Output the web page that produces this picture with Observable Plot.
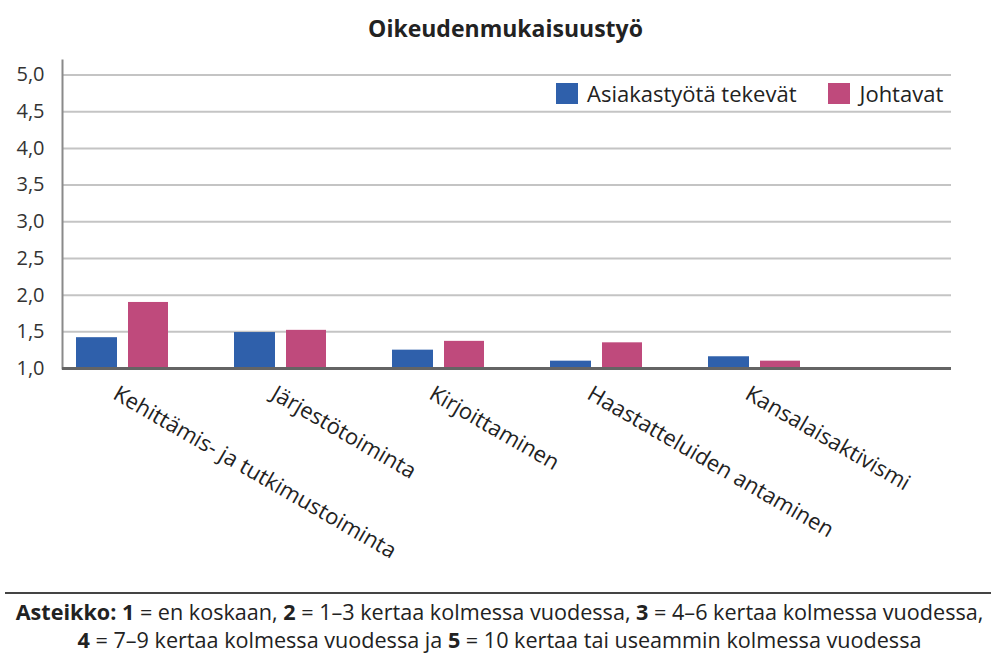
<!DOCTYPE html>
<html><head><meta charset="utf-8">
<script src="https://cdn.jsdelivr.net/npm/d3@7"></script>
<script src="https://cdn.jsdelivr.net/npm/@observablehq/plot@0.6"></script>
<style>
body{margin:0;background:#fff;width:991px;height:662px;position:relative;overflow:hidden;font-family:"Open Sans",sans-serif;color:#222}
#title{position:absolute;top:12px;left:0;width:1011px;text-align:center;font-weight:700;font-size:23px;line-height:32px}
#chart{position:absolute;top:55px;left:0}
#legend{position:absolute;top:78px;left:556px;display:flex;align-items:center;font-size:22px;line-height:30px;color:#222}
#legend .sw{display:inline-block;width:22px;height:21px;margin-right:9px}
#legend .item{display:flex;align-items:center;margin-right:32px}
#rule{position:absolute;top:592px;left:5px;width:986px;height:2px;background:#444}
#footer{position:absolute;top:598px;left:0;width:999px;text-align:center;font-size:21.6px;line-height:28px;color:#222}
</style></head>
<body>
<div id="title">Oikeudenmukaisuustyö</div>
<div id="chart"></div>
<div id="legend"></div>
<div id="rule"></div>
<div id="footer"><b>Asteikko: 1</b> = en koskaan, <b>2</b> = 1–3 kertaa kolmessa vuodessa, <b>3</b> = 4–6 kertaa kolmessa vuodessa,<br><b>4</b> = 7–9 kertaa kolmessa vuodessa ja <b>5</b> = 10 kertaa tai useammin kolmessa vuodessa</div>
<script>
const categories = ["Kehittämis- ja tutkimustoiminta", "Järjestötoiminta", "Kirjoittaminen", "Haastatteluiden antaminen", "Kansalaisaktivismi"];
const seriesNames = ["Asiakastyötä tekevät", "Johtavat"];
const asiakastyo = [1.42, 1.49, 1.25, 1.10, 1.16];
const johtavat = [1.90, 1.52, 1.37, 1.35, 1.10];
const yTicks = [1.0, 1.5, 2.0, 2.5, 3.0, 3.5, 4.0, 4.5, 5.0];
const colors = ["#2f60ab", "#bf4a7c"];

const rows = categories.map((c, i) => ({category: c, a: asiakastyo[i], j: johtavat[i]}));

const chart = Plot.plot({
  width: 991,
  height: 525,
  marginTop: 5,
  marginBottom: 212,
  marginLeft: 62,
  marginRight: 40,
  style: {fontFamily: "'Open Sans', sans-serif", color: "#333", background: "transparent"},
  x: {type: "band", domain: categories, range: [43, 833], padding: 0, axis: null},
  y: {domain: [1, 5], range: [313, 19.5], axis: null},
  marks: [
    Plot.ruleY(yTicks.filter(d => d > 1), {stroke: "#c4c4c4", strokeWidth: 2}),
    Plot.frame({anchor: "left", stroke: "#8a8a8a", strokeWidth: 2}),
    Plot.barY(rows, {x: "category", y1: 1, y2: "a", fill: colors[0], insetLeft: 33, insetRight: 84}),
    Plot.barY(rows, {x: "category", y1: 1, y2: "j", fill: colors[1], insetLeft: 85, insetRight: 33}),
    Plot.ruleY([1], {stroke: "#646464", strokeWidth: 3}),
    Plot.axisY({ticks: yTicks, tickFormat: d => d.toFixed(1).replace(".", ","), tickSize: 0, tickPadding: 18, fontSize: 20}),
    Plot.text(rows, {x: "category", text: "category", frameAnchor: "bottom", rotate: 30, textAnchor: "start", lineAnchor: "top", dy: 16, dx: -3, fontSize: 22, fill: "#222"})
  ]
});
document.getElementById("chart").appendChild(chart);

const legend = document.getElementById("legend");
seriesNames.forEach((name, i) => {
  const item = document.createElement("span");
  item.className = "item";
  const sw = document.createElement("span");
  sw.className = "sw";
  sw.style.background = colors[i];
  item.appendChild(sw);
  item.appendChild(document.createTextNode(name));
  legend.appendChild(item);
});
</script>
</body></html>
